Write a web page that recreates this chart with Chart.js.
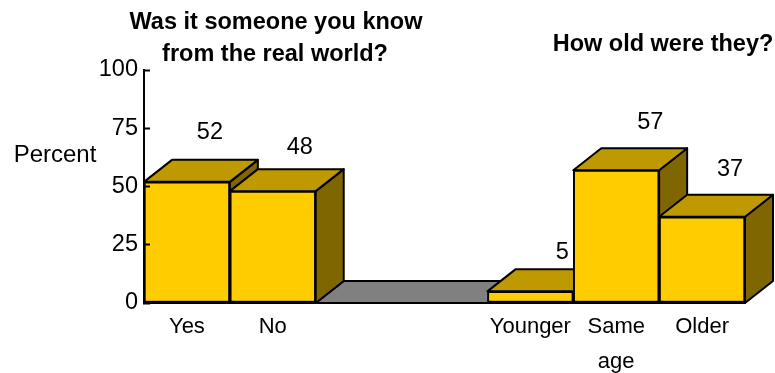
<!DOCTYPE html>
<html>
<head>
<meta charset="utf-8">
<style>
  html, body { margin: 0; padding: 0; background: #fff; }
  canvas { display: block; }
</style>
<script src="https://cdn.jsdelivr.net/npm/chart.js@4"></script>
</head>
<body>
<canvas id="chart" width="775" height="373"></canvas>
<script>
const categories = ['Yes', 'No', '', '', 'Younger', ['Same', 'age'], 'Older'];
const percents = [52, 48, null, null, 5, 57, 37];
const yTicks = [0, 25, 50, 75, 100];
const leftTitle = ['Was it someone you know', 'from the real world?'];
const rightTitle = 'How old were they?';
const yLabel = 'Percent';

const FONT = '"Liberation Sans", Arial, sans-serif';
const DEPTH_X = 28;
const DEPTH_Y = 22;
// where each number sits, relative to the top centre of its bar
const labelShift = [[23, -49], [27, -44], null, null, [32, -39], [34, -48], [28, -47]];

function face(ctx, pts, fill) {
  ctx.beginPath();
  pts.forEach((p, i) => i ? ctx.lineTo(p[0], p[1]) : ctx.moveTo(p[0], p[1]));
  ctx.closePath();
  ctx.fillStyle = fill;
  ctx.fill();
  ctx.stroke();
}

// top and side of the boxes, and the grey floor between the two groups
const depthPlugin = {
  id: 'depth',
  beforeDatasetsDraw(chart) {
    const ctx = chart.ctx;
    const bars = chart.getDatasetMeta(0).data;
    const half = bars[0].width / 2;
    const base = chart.scales.y.getPixelForValue(0);
    ctx.save();
    ctx.strokeStyle = '#000';
    ctx.lineWidth = 2;
    ctx.lineJoin = 'round';

    const x0 = bars[1].x + half;
    const x1 = bars[4].x - half;
    face(ctx, [[x0, base], [x0 + DEPTH_X, base - DEPTH_Y], [x1 + DEPTH_X, base - DEPTH_Y], [x1, base]], '#808080');

    bars.forEach((b, i) => {
      if (percents[i] === null) return;
      const l = b.x - half, r = b.x + half, t = b.y;
      face(ctx, [[r, t], [r + DEPTH_X, t - DEPTH_Y], [r + DEPTH_X, base - DEPTH_Y], [r, base]], '#806600');
      face(ctx, [[l, t], [l + DEPTH_X, t - DEPTH_Y], [r + DEPTH_X, t - DEPTH_Y], [r, t]], '#bf9900');
    });
    ctx.restore();
  },
  afterDraw(chart) {
    const ctx = chart.ctx;
    const bars = chart.getDatasetMeta(0).data;
    ctx.save();
    ctx.fillStyle = '#000';
    ctx.textAlign = 'center';
    ctx.textBaseline = 'middle';

    ctx.font = '23.5px ' + FONT;
    bars.forEach((b, i) => {
      if (percents[i] === null) return;
      ctx.fillText(String(percents[i]), b.x + labelShift[i][0], b.y + labelShift[i][1]);
    });
    ctx.font = '24px ' + FONT;
    ctx.fillText(yLabel, 55, 155);

    ctx.font = 'bold 23.5px ' + FONT;
    ctx.fillText(leftTitle[0], 276, 23);
    ctx.fillText(leftTitle[1], 275, 55);
    ctx.fillText(rightTitle, 663, 45);
    ctx.restore();
  }
};

new Chart(document.getElementById('chart').getContext('2d'), {
  type: 'bar',
  data: {
    labels: categories,
    datasets: [{
      data: percents,
      backgroundColor: '#ffcc00',
      borderColor: '#000',
      borderWidth: 2,
      borderSkipped: false,
      barPercentage: 1,
      categoryPercentage: 1
    }]
  },
  options: {
    responsive: false,
    animation: false,
    layout: { padding: { top: 70, right: 30, left: 0, bottom: 0 } },
    plugins: {
      legend: { display: false },
      tooltip: { enabled: false }
    },
    scales: {
      x: {
        grid: { display: false },
        border: { color: '#000', width: 2 },
        afterFit(axis) { axis.height = 70; },
        ticks: {
          color: '#000',
          autoSkip: false,
          maxRotation: 0,
          padding: -2,
          font: { family: FONT, size: 22, lineHeight: 1.6 }
        }
      },
      y: {
        min: 0,
        max: 100,
        afterBuildTicks(axis) { axis.ticks = yTicks.map(v => ({ value: v })); },
        afterFit(axis) { axis.width = 144; },
        grid: { drawOnChartArea: false, tickLength: -6, tickColor: '#000', tickWidth: 2, z: 1 },
        border: { color: '#000', width: 2, z: 1 },
        ticks: {
          color: '#000',
          padding: 12,
          font: { family: FONT, size: 23.5 }
        }
      }
    }
  },
  plugins: [depthPlugin]
});
</script>
</body>
</html>
